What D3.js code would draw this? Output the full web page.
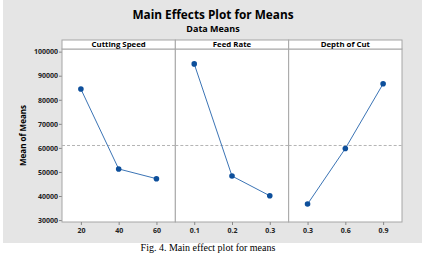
<!DOCTYPE html>
<html>
<head>
<meta charset="utf-8">
<style>
  body { margin: 0; background: #fff; }
  svg { display: block; }
  text { font-family: "Open Sans", "Noto Sans", sans-serif; }
</style>
</head>
<body>
<svg id="chart" width="425" height="254" viewBox="0 0 425 254" xmlns="http://www.w3.org/2000/svg"></svg>
<script src="https://d3js.org/d3.v7.min.js"></script>
<script>
// data
const factors = ["Cutting Speed", "Feed Rate", "Depth of Cut"];
const levels = [["20", "40", "60"], ["0.1", "0.2", "0.3"], ["0.3", "0.6", "0.9"]];
const means = [[84450, 51250, 47200], [94900, 48300, 40100], [36650, 59750, 86650]];
const grandMean = 61000;
const yTicks = [30000, 40000, 50000, 60000, 70000, 80000, 90000, 100000];

const svg = d3.select("#chart");

// grey frame
svg.append("rect")
  .attr("x", 3).attr("y", 0)
  .attr("width", 419).attr("height", 243)
  .attr("fill", "#e5e5e5");

const plot = { left: 62, right: 402, top: 49, bottom: 222, strip: 40 };
const panelW = (plot.right - plot.left) / factors.length;

const y = d3.scaleLinear()
  .domain([29200, 101100])
  .range([plot.bottom, plot.top]);

// titles
svg.append("text")
  .attr("x", 213).attr("y", 19)
  .attr("text-anchor", "middle")
  .attr("font-size", "11.8px")
  .attr("font-weight", "bold")
  .text("Main Effects Plot for Means");
svg.append("text")
  .attr("x", 213).attr("y", 32)
  .attr("text-anchor", "middle")
  .attr("font-size", "9px")
  .attr("font-weight", "bold")
  .text("Data Means");

// y axis label
svg.append("text")
  .attr("transform", `translate(26,${(plot.top + plot.bottom) / 2}) rotate(-90)`)
  .attr("text-anchor", "middle")
  .attr("font-size", "8px")
  .attr("font-weight", "bold")
  .text("Mean of Means");

// y axis
const yAxis = d3.axisLeft(y).tickValues(yTicks).tickSize(3).tickPadding(1).tickFormat(d3.format("d"));
const ya = svg.append("g").attr("transform", `translate(${plot.left},0)`).call(yAxis);
ya.select(".domain").remove();
ya.selectAll("line").attr("stroke", "#888");
ya.selectAll("text").attr("font-size", "7px").attr("font-weight", "bold").attr("fill", "#222")
  .style("font-family", "'Open Sans', sans-serif");

factors.forEach((f, i) => {
  const x0 = plot.left + i * panelW;
  const x = d3.scalePoint().domain(levels[i]).range([x0, x0 + panelW]).padding(0.5);

  // panel background
  svg.append("rect")
    .attr("x", x0).attr("y", plot.top)
    .attr("width", panelW).attr("height", plot.bottom - plot.top)
    .attr("fill", "#fff")
    .attr("stroke", "#a6a6a6").attr("stroke-width", 1);

  // strip
  svg.append("rect")
    .attr("x", x0).attr("y", plot.strip)
    .attr("width", panelW).attr("height", plot.top - plot.strip)
    .attr("fill", "#fff")
    .attr("stroke", "#a6a6a6").attr("stroke-width", 1);
  svg.append("text")
    .attr("x", x0 + panelW / 2).attr("y", plot.top - 2)
    .attr("text-anchor", "middle")
    .attr("font-size", "7.8px")
    .attr("font-weight", "bold")
    .text(f);

  // grand mean reference
  svg.append("line")
    .attr("x1", x0).attr("x2", x0 + panelW)
    .attr("y1", y(grandMean)).attr("y2", y(grandMean))
    .attr("stroke", "#b5b5b5")
    .attr("stroke-dasharray", "3,2");

  // x axis
  const xa = svg.append("g")
    .attr("transform", `translate(0,${plot.bottom})`)
    .call(d3.axisBottom(x).tickSize(3).tickPadding(3));
  xa.select(".domain").remove();
  xa.selectAll("line").attr("stroke", "#888");
  xa.selectAll("text").attr("font-size", "7px").attr("font-weight", "bold").attr("fill", "#222")
    .style("font-family", "'Open Sans', sans-serif");

  // line + points
  const pts = levels[i].map((l, j) => [x(l), y(means[i][j])]);
  svg.append("path")
    .attr("d", d3.line()(pts))
    .attr("fill", "none")
    .attr("stroke", "#3b74b5")
    .attr("stroke-width", 1);
  pts.forEach(p => {
    svg.append("circle")
      .attr("cx", p[0]).attr("cy", p[1])
      .attr("r", 2.8)
      .attr("fill", "#0d4f9b");
  });
});

// caption
svg.append("text")
  .attr("x", 208).attr("y", 251)
  .attr("text-anchor", "middle")
  .attr("font-size", "10px")
  .style("font-family", "'Liberation Serif', 'DejaVu Serif', serif")
  .text("Fig. 4. Main effect plot for means");
</script>
</body>
</html>
